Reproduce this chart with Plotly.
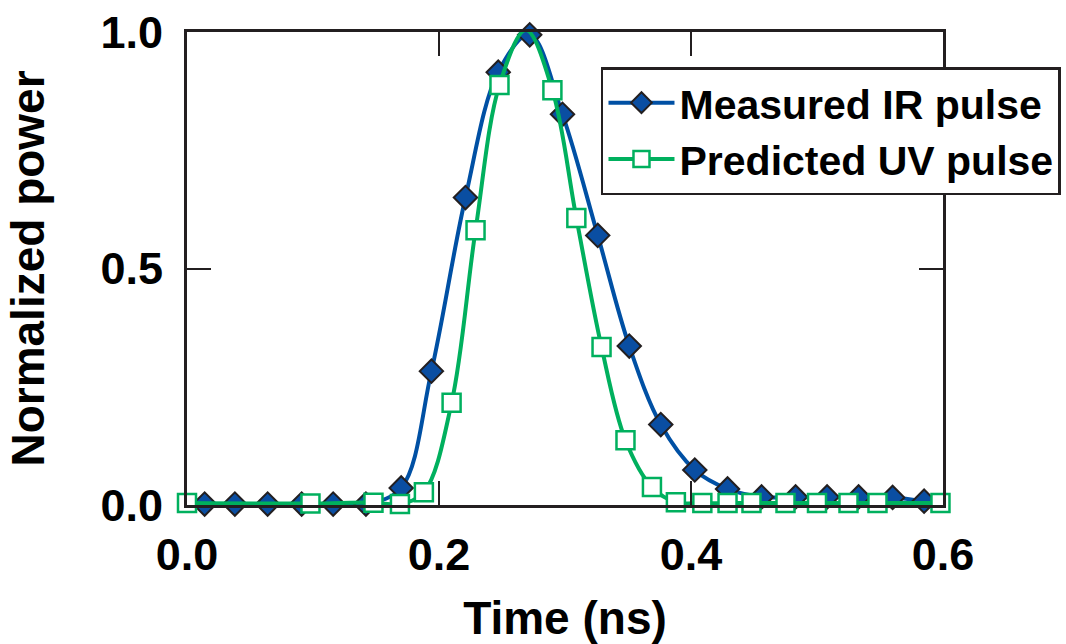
import plotly.graph_objects as go

# Measured IR pulse (blue diamonds)
ir_time = [0.014, 0.038, 0.064, 0.091, 0.116, 0.142, 0.170, 0.194, 0.221, 0.247,
           0.272, 0.298, 0.326, 0.351, 0.376, 0.403, 0.429, 0.456, 0.483, 0.508,
           0.533, 0.560, 0.585]
ir_power = [0.002, 0.002, 0.002, 0.002, 0.002, 0.002, 0.036, 0.283, 0.650, 0.915,
            0.994, 0.826, 0.570, 0.336, 0.170, 0.074, 0.034, 0.017, 0.017, 0.017,
            0.017, 0.016, 0.008]

# Predicted UV pulse (green squares)
uv_time = [0.000, 0.098, 0.148, 0.169, 0.188, 0.210, 0.229, 0.248, 0.269, 0.290,
           0.309, 0.329, 0.348, 0.369, 0.388, 0.409, 0.429, 0.448, 0.475, 0.500,
           0.525, 0.548, 0.598]
uv_power = [0.004, 0.003, 0.005, 0.002, 0.027, 0.216, 0.581, 0.888, 1.004, 0.877,
            0.607, 0.334, 0.137, 0.038, 0.006, 0.004, 0.004, 0.004, 0.004, 0.004,
            0.004, 0.004, 0.004]

x_ticks = [0.0, 0.2, 0.4, 0.6]
x_ticklabels = ["0.0", "0.2", "0.4", "0.6"]
y_ticks = [0.0, 0.5, 1.0]
y_ticklabels = ["0.0", "0.5", "1.0"]

BLUE = "#0050a4"
GREEN = "#00b05e"
FONT = "Liberation Sans, Arial, Helvetica, sans-serif"

fig = go.Figure()
fig.add_trace(go.Scatter(
    x=ir_time, y=ir_power, mode="lines+markers", name="Measured IR pulse",
    line=dict(color=BLUE, width=4, shape="spline", smoothing=1.0),
    marker=dict(symbol="diamond", size=18, color="#0a4ea2",
                line=dict(color="#231f20", width=2)),
    cliponaxis=False,
))
fig.add_trace(go.Scatter(
    x=uv_time, y=uv_power, mode="lines+markers", name="Predicted UV pulse",
    line=dict(color=GREEN, width=4, shape="spline", smoothing=1.0),
    marker=dict(symbol="square", size=18, color="white",
                line=dict(color=GREEN, width=2.5)),
    cliponaxis=False,
))

axis_common = dict(
    showline=True, linecolor="#231f20", linewidth=3, mirror="ticks",
    ticks="inside", ticklen=24, tickwidth=2, tickcolor="#231f20",
    showgrid=False, zeroline=False, automargin=False,
    tickfont=dict(family=FONT, size=45, color="black", weight="bold"),
)

fig.update_layout(
    width=1066, height=644,
    margin=dict(l=187, r=123, t=32, b=139, autoexpand=False),
    paper_bgcolor="white", plot_bgcolor="white",
    font=dict(family=FONT, color="black"),
    xaxis=dict(
        range=[0, 0.6], tickvals=x_ticks, ticktext=x_ticklabels,
        ticklabelstandoff=8,
        title=dict(text="Time (ns)", standoff=24,
                   font=dict(family=FONT, size=46, color="black", weight="bold")),
        **axis_common,
    ),
    yaxis=dict(
        range=[0, 1.0], tickvals=y_ticks, ticktext=y_ticklabels,
        ticklabelstandoff=12,
        title=dict(text="Normalized power", standoff=42,
                   font=dict(family=FONT, size=46, color="black", weight="bold")),
        **axis_common,
    ),
    legend=dict(
        x=0.5476, y=0.926, xanchor="left", yanchor="top",
        bgcolor="white", bordercolor="#231f20", borderwidth=2.5,
        font=dict(family=FONT, size=41, color="black", weight="bold"),
        itemwidth=66, tracegroupgap=0,
    ),
    showlegend=True,
)

fig.write_html("out.html", config={"displayModeBar": False},
               post_script="document.body.style.margin='0';")
